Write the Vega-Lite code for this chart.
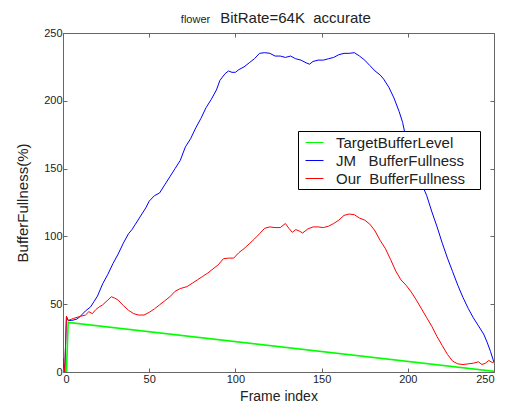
{
  "$schema": "https://vega.github.io/schema/vega-lite/v6.json",
  "width": 431,
  "height": 339,
  "autosize": "none",
  "padding": {"left": 63, "top": 33, "right": 16, "bottom": 40},
  "background": "white",
  "datasets": {
    "buf": [
      {"series": "TargetBufferLevel", "frame": 2, "value": 0},
      {"series": "TargetBufferLevel", "frame": 3, "value": 36.5},
      {"series": "TargetBufferLevel", "frame": 250, "value": 0.5},

      {"series": "JM BufferFullness", "frame": 0, "value": 10},
      {"series": "JM BufferFullness", "frame": 1, "value": 0},
      {"series": "JM BufferFullness", "frame": 2, "value": 41},
      {"series": "JM BufferFullness", "frame": 3, "value": 38},
      {"series": "JM BufferFullness", "frame": 5, "value": 38},
      {"series": "JM BufferFullness", "frame": 8, "value": 39},
      {"series": "JM BufferFullness", "frame": 10, "value": 41},
      {"series": "JM BufferFullness", "frame": 13, "value": 45},
      {"series": "JM BufferFullness", "frame": 16, "value": 48},
      {"series": "JM BufferFullness", "frame": 18, "value": 52},
      {"series": "JM BufferFullness", "frame": 20, "value": 56},
      {"series": "JM BufferFullness", "frame": 23, "value": 65},
      {"series": "JM BufferFullness", "frame": 26, "value": 72},
      {"series": "JM BufferFullness", "frame": 29, "value": 80},
      {"series": "JM BufferFullness", "frame": 32, "value": 87},
      {"series": "JM BufferFullness", "frame": 35, "value": 95},
      {"series": "JM BufferFullness", "frame": 38, "value": 102},
      {"series": "JM BufferFullness", "frame": 40, "value": 105},
      {"series": "JM BufferFullness", "frame": 42, "value": 109},
      {"series": "JM BufferFullness", "frame": 45, "value": 115},
      {"series": "JM BufferFullness", "frame": 48, "value": 121},
      {"series": "JM BufferFullness", "frame": 50, "value": 126},
      {"series": "JM BufferFullness", "frame": 53, "value": 130},
      {"series": "JM BufferFullness", "frame": 56, "value": 132},
      {"series": "JM BufferFullness", "frame": 59, "value": 138},
      {"series": "JM BufferFullness", "frame": 62, "value": 144},
      {"series": "JM BufferFullness", "frame": 65, "value": 150},
      {"series": "JM BufferFullness", "frame": 68, "value": 156},
      {"series": "JM BufferFullness", "frame": 71, "value": 166},
      {"series": "JM BufferFullness", "frame": 74, "value": 172},
      {"series": "JM BufferFullness", "frame": 77, "value": 180},
      {"series": "JM BufferFullness", "frame": 80, "value": 187},
      {"series": "JM BufferFullness", "frame": 83, "value": 195},
      {"series": "JM BufferFullness", "frame": 86, "value": 201},
      {"series": "JM BufferFullness", "frame": 89, "value": 208},
      {"series": "JM BufferFullness", "frame": 91, "value": 215},
      {"series": "JM BufferFullness", "frame": 94, "value": 220},
      {"series": "JM BufferFullness", "frame": 96, "value": 222},
      {"series": "JM BufferFullness", "frame": 98, "value": 221},
      {"series": "JM BufferFullness", "frame": 100, "value": 221},
      {"series": "JM BufferFullness", "frame": 102, "value": 223},
      {"series": "JM BufferFullness", "frame": 105, "value": 225},
      {"series": "JM BufferFullness", "frame": 108, "value": 228},
      {"series": "JM BufferFullness", "frame": 111, "value": 231},
      {"series": "JM BufferFullness", "frame": 114, "value": 235},
      {"series": "JM BufferFullness", "frame": 117, "value": 235.5},
      {"series": "JM BufferFullness", "frame": 120, "value": 235},
      {"series": "JM BufferFullness", "frame": 123, "value": 233},
      {"series": "JM BufferFullness", "frame": 126, "value": 233},
      {"series": "JM BufferFullness", "frame": 129, "value": 232},
      {"series": "JM BufferFullness", "frame": 132, "value": 233},
      {"series": "JM BufferFullness", "frame": 135, "value": 231},
      {"series": "JM BufferFullness", "frame": 138, "value": 230},
      {"series": "JM BufferFullness", "frame": 141, "value": 228},
      {"series": "JM BufferFullness", "frame": 143, "value": 227},
      {"series": "JM BufferFullness", "frame": 145, "value": 229},
      {"series": "JM BufferFullness", "frame": 148, "value": 230},
      {"series": "JM BufferFullness", "frame": 151, "value": 230},
      {"series": "JM BufferFullness", "frame": 154, "value": 231},
      {"series": "JM BufferFullness", "frame": 157, "value": 232},
      {"series": "JM BufferFullness", "frame": 160, "value": 234},
      {"series": "JM BufferFullness", "frame": 163, "value": 235},
      {"series": "JM BufferFullness", "frame": 166, "value": 235},
      {"series": "JM BufferFullness", "frame": 169, "value": 235.5},
      {"series": "JM BufferFullness", "frame": 172, "value": 233},
      {"series": "JM BufferFullness", "frame": 175, "value": 230},
      {"series": "JM BufferFullness", "frame": 178, "value": 226},
      {"series": "JM BufferFullness", "frame": 181, "value": 222},
      {"series": "JM BufferFullness", "frame": 184, "value": 219},
      {"series": "JM BufferFullness", "frame": 186, "value": 216},
      {"series": "JM BufferFullness", "frame": 189, "value": 210},
      {"series": "JM BufferFullness", "frame": 192, "value": 202},
      {"series": "JM BufferFullness", "frame": 195, "value": 192},
      {"series": "JM BufferFullness", "frame": 197, "value": 184},
      {"series": "JM BufferFullness", "frame": 199, "value": 172},
      {"series": "JM BufferFullness", "frame": 202, "value": 160},
      {"series": "JM BufferFullness", "frame": 205, "value": 149},
      {"series": "JM BufferFullness", "frame": 208, "value": 139},
      {"series": "JM BufferFullness", "frame": 211, "value": 130},
      {"series": "JM BufferFullness", "frame": 214, "value": 118},
      {"series": "JM BufferFullness", "frame": 217, "value": 107},
      {"series": "JM BufferFullness", "frame": 220, "value": 95},
      {"series": "JM BufferFullness", "frame": 223, "value": 84},
      {"series": "JM BufferFullness", "frame": 226, "value": 74},
      {"series": "JM BufferFullness", "frame": 229, "value": 64},
      {"series": "JM BufferFullness", "frame": 232, "value": 55},
      {"series": "JM BufferFullness", "frame": 235, "value": 47},
      {"series": "JM BufferFullness", "frame": 238, "value": 40},
      {"series": "JM BufferFullness", "frame": 241, "value": 34},
      {"series": "JM BufferFullness", "frame": 244, "value": 28},
      {"series": "JM BufferFullness", "frame": 246, "value": 22},
      {"series": "JM BufferFullness", "frame": 248, "value": 15},
      {"series": "JM BufferFullness", "frame": 250, "value": 7},

      {"series": "Our BufferFullness", "frame": 0, "value": 10},
      {"series": "Our BufferFullness", "frame": 1, "value": 0},
      {"series": "Our BufferFullness", "frame": 2, "value": 41},
      {"series": "Our BufferFullness", "frame": 3, "value": 38},
      {"series": "Our BufferFullness", "frame": 6, "value": 39.5},
      {"series": "Our BufferFullness", "frame": 10, "value": 41},
      {"series": "Our BufferFullness", "frame": 13, "value": 42},
      {"series": "Our BufferFullness", "frame": 15, "value": 44.5},
      {"series": "Our BufferFullness", "frame": 17, "value": 43},
      {"series": "Our BufferFullness", "frame": 19, "value": 46},
      {"series": "Our BufferFullness", "frame": 21, "value": 48},
      {"series": "Our BufferFullness", "frame": 23, "value": 49.5},
      {"series": "Our BufferFullness", "frame": 26, "value": 53},
      {"series": "Our BufferFullness", "frame": 28, "value": 55.5},
      {"series": "Our BufferFullness", "frame": 30, "value": 54.5},
      {"series": "Our BufferFullness", "frame": 32, "value": 53},
      {"series": "Our BufferFullness", "frame": 35, "value": 49},
      {"series": "Our BufferFullness", "frame": 38, "value": 45.5},
      {"series": "Our BufferFullness", "frame": 41, "value": 43},
      {"series": "Our BufferFullness", "frame": 44, "value": 42},
      {"series": "Our BufferFullness", "frame": 47, "value": 42},
      {"series": "Our BufferFullness", "frame": 50, "value": 44},
      {"series": "Our BufferFullness", "frame": 53, "value": 46.5},
      {"series": "Our BufferFullness", "frame": 56, "value": 49.5},
      {"series": "Our BufferFullness", "frame": 59, "value": 52.5},
      {"series": "Our BufferFullness", "frame": 62, "value": 55.5},
      {"series": "Our BufferFullness", "frame": 65, "value": 59.5},
      {"series": "Our BufferFullness", "frame": 68, "value": 61.5},
      {"series": "Our BufferFullness", "frame": 72, "value": 63},
      {"series": "Our BufferFullness", "frame": 75, "value": 65.5},
      {"series": "Our BufferFullness", "frame": 78, "value": 68},
      {"series": "Our BufferFullness", "frame": 81, "value": 70.5},
      {"series": "Our BufferFullness", "frame": 84, "value": 73},
      {"series": "Our BufferFullness", "frame": 87, "value": 76},
      {"series": "Our BufferFullness", "frame": 90, "value": 79},
      {"series": "Our BufferFullness", "frame": 93, "value": 83.5},
      {"series": "Our BufferFullness", "frame": 96, "value": 84},
      {"series": "Our BufferFullness", "frame": 99, "value": 84},
      {"series": "Our BufferFullness", "frame": 102, "value": 88},
      {"series": "Our BufferFullness", "frame": 105, "value": 91},
      {"series": "Our BufferFullness", "frame": 108, "value": 94.5},
      {"series": "Our BufferFullness", "frame": 111, "value": 98},
      {"series": "Our BufferFullness", "frame": 114, "value": 102},
      {"series": "Our BufferFullness", "frame": 117, "value": 106},
      {"series": "Our BufferFullness", "frame": 120, "value": 107},
      {"series": "Our BufferFullness", "frame": 123, "value": 106.5},
      {"series": "Our BufferFullness", "frame": 126, "value": 106.5},
      {"series": "Our BufferFullness", "frame": 129, "value": 109.5},
      {"series": "Our BufferFullness", "frame": 131, "value": 106},
      {"series": "Our BufferFullness", "frame": 133, "value": 103},
      {"series": "Our BufferFullness", "frame": 135, "value": 105},
      {"series": "Our BufferFullness", "frame": 137, "value": 104},
      {"series": "Our BufferFullness", "frame": 139, "value": 102.5},
      {"series": "Our BufferFullness", "frame": 142, "value": 105.5},
      {"series": "Our BufferFullness", "frame": 145, "value": 107},
      {"series": "Our BufferFullness", "frame": 148, "value": 107},
      {"series": "Our BufferFullness", "frame": 151, "value": 106.5},
      {"series": "Our BufferFullness", "frame": 154, "value": 107.5},
      {"series": "Our BufferFullness", "frame": 157, "value": 109.5},
      {"series": "Our BufferFullness", "frame": 160, "value": 112},
      {"series": "Our BufferFullness", "frame": 163, "value": 115.5},
      {"series": "Our BufferFullness", "frame": 166, "value": 116.5},
      {"series": "Our BufferFullness", "frame": 169, "value": 116},
      {"series": "Our BufferFullness", "frame": 172, "value": 113.5},
      {"series": "Our BufferFullness", "frame": 175, "value": 112},
      {"series": "Our BufferFullness", "frame": 178, "value": 109},
      {"series": "Our BufferFullness", "frame": 181, "value": 104},
      {"series": "Our BufferFullness", "frame": 184, "value": 97},
      {"series": "Our BufferFullness", "frame": 187, "value": 91},
      {"series": "Our BufferFullness", "frame": 190, "value": 83},
      {"series": "Our BufferFullness", "frame": 193, "value": 74.5},
      {"series": "Our BufferFullness", "frame": 196, "value": 68},
      {"series": "Our BufferFullness", "frame": 199, "value": 64},
      {"series": "Our BufferFullness", "frame": 202, "value": 59},
      {"series": "Our BufferFullness", "frame": 205, "value": 53},
      {"series": "Our BufferFullness", "frame": 208, "value": 46.5},
      {"series": "Our BufferFullness", "frame": 211, "value": 40},
      {"series": "Our BufferFullness", "frame": 214, "value": 33.5},
      {"series": "Our BufferFullness", "frame": 217, "value": 26},
      {"series": "Our BufferFullness", "frame": 220, "value": 19.5},
      {"series": "Our BufferFullness", "frame": 223, "value": 13},
      {"series": "Our BufferFullness", "frame": 226, "value": 8},
      {"series": "Our BufferFullness", "frame": 229, "value": 6},
      {"series": "Our BufferFullness", "frame": 232, "value": 5.5},
      {"series": "Our BufferFullness", "frame": 235, "value": 6},
      {"series": "Our BufferFullness", "frame": 238, "value": 6.5},
      {"series": "Our BufferFullness", "frame": 241, "value": 7.5},
      {"series": "Our BufferFullness", "frame": 243, "value": 5.5},
      {"series": "Our BufferFullness", "frame": 245, "value": 6.5},
      {"series": "Our BufferFullness", "frame": 247, "value": 8.5},
      {"series": "Our BufferFullness", "frame": 249, "value": 7},
      {"series": "Our BufferFullness", "frame": 250, "value": 7.5}
    ]
  },
  "data": {"name": "buf"},
  "layer": [
    {
      "transform": [{"filter": "datum.series === 'TargetBufferLevel'"}],
      "mark": {"type": "line", "clip": true, "strokeWidth": 1.6},
      "encoding": {
        "x": {
          "field": "frame", "type": "quantitative",
          "scale": {"domain": [0, 250], "nice": false, "zero": false},
          "axis": {"orient": "bottom", "values": [0, 50, 100, 150, 200, 250], "title": "Frame index", "titleFontSize": 14, "titlePadding": 5, "labelPadding": 5}
        },
        "y": {
          "field": "value", "type": "quantitative",
          "scale": {"domain": [0, 250], "nice": false, "zero": false},
          "axis": {"orient": "left", "values": [0, 50, 100, 150, 200, 250], "title": "BufferFullness(%)", "titleFontSize": 15, "titlePadding": 13, "labelPadding": 5}
        },
        "color": {
          "field": "series", "type": "nominal",
          "scale": {
            "domain": ["TargetBufferLevel", "JM BufferFullness", "Our BufferFullness"],
            "range": ["#00ff00", "#0000ff", "#ff0000"]
          },
          "legend": {
            "title": null,
            "orient": "none",
            "legendX": 235,
            "legendY": 98,
            "padding": 2,
            "symbolOffset": 5,
            "symbolType": "stroke",
            "symbolSize": 324,
            "symbolStrokeWidth": 1,
            "labelOffset": 12,
            "rowPadding": -1.5,
            "labelFontSize": 15,
            "labelFont": "Liberation Sans",
            "labelColor": "#222",
            "labelLimit": 400,
            "strokeColor": "#000",
            "fillColor": "white",
            "labelExpr": "replace(replace(datum.label, 'JM ', 'JM\u00a0\u00a0\u00a0'), 'Our ', 'Our\u00a0\u00a0') + '\u00a0\u00a0\u00a0\u200b'"
          }
        }
      }
    },
    {
      "transform": [{"filter": "datum.series !== 'TargetBufferLevel'"}],
      "mark": {"type": "line", "clip": true, "strokeWidth": 1},
      "encoding": {
        "x": {"field": "frame", "type": "quantitative", "scale": {"domain": [0, 250], "nice": false, "zero": false}, "axis": null},
        "y": {"field": "value", "type": "quantitative", "scale": {"domain": [0, 250], "nice": false, "zero": false}, "axis": null},
        "color": {
          "field": "series", "type": "nominal",
          "scale": {
            "domain": ["TargetBufferLevel", "JM BufferFullness", "Our BufferFullness"],
            "range": ["#00ff00", "#0000ff", "#ff0000"]
          },
          "legend": {
            "title": null,
            "orient": "none",
            "legendX": 235,
            "legendY": 98,
            "padding": 2,
            "symbolOffset": 5,
            "symbolType": "stroke",
            "symbolSize": 324,
            "symbolStrokeWidth": 1,
            "labelOffset": 12,
            "rowPadding": -1.5,
            "labelFontSize": 15,
            "labelFont": "Liberation Sans",
            "labelColor": "#222",
            "labelLimit": 400,
            "strokeColor": "#000",
            "fillColor": "white",
            "labelExpr": "replace(replace(datum.label, 'JM ', 'JM\u00a0\u00a0\u00a0'), 'Our ', 'Our\u00a0\u00a0') + '\u00a0\u00a0\u00a0\u200b'"
          }
        }
      }
    },
    {
      "mark": {"type": "line", "opacity": 0},
      "encoding": {
        "x": {
          "field": "frame", "type": "quantitative",
          "scale": {"domain": [0, 250], "nice": false, "zero": false},
          "axis": {"orient": "top", "values": [0, 50, 100, 150, 200, 250], "labels": false, "title": "BitRate=64K\u00a0\u00a0accurate", "titleFontSize": 15, "titleX": 232, "titleY": -11, "titleAlign": "center", "titleBaseline": "alphabetic", "titleAngle": 0}
        },
        "y": {
          "field": "value", "type": "quantitative",
          "scale": {"domain": [0, 250], "nice": false, "zero": false},
          "axis": {"orient": "right", "values": [0, 50, 100, 150, 200, 250], "labels": false, "title": "flower", "titleFontSize": 11, "titleX": -299, "titleY": -11, "titleAlign": "center", "titleBaseline": "alphabetic", "titleAngle": 0}
        },
        "detail": {"field": "series"}
      }
    }
  ],
  "resolve": {"axis": {"x": "independent", "y": "independent"}},
  "config": {
    "view": {"stroke": null},
    "font": "Liberation Sans",
    "axis": {
      "grid": false,
      "domainColor": "#666",
      "domainWidth": 1,
      "tickColor": "#666",
      "tickSize": -4,
      "labelFontSize": 11,
      "labelColor": "#222",
      "labelFont": "Liberation Sans",
      "titleFont": "Liberation Sans",
      "titleFontWeight": "normal",
      "titleColor": "#222"
    }
  }
}
